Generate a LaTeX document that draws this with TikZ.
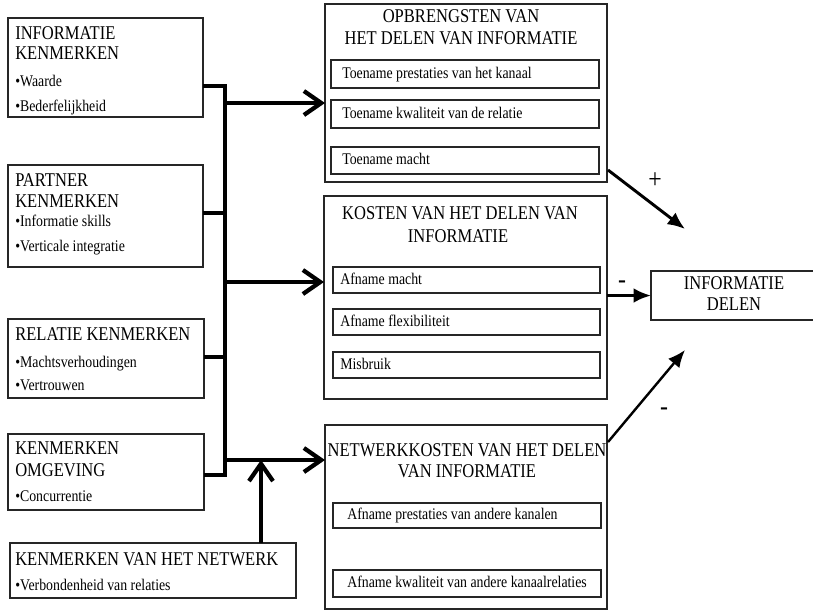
\documentclass[tikz,border=0pt]{standalone}
\usepackage{fontspec}
\setmainfont{Liberation Serif}[FakeStretch=0.85]
\usetikzlibrary{arrows.meta}
\newcommand\fntTitle{\fontsize{14.6}{16}\selectfont}
\newcommand\fntSmall{\fontsize{12.2}{14}\selectfont}
\newcommand\fntSign{\fontsize{21}{22}\selectfont}
\tikzset{
  box/.style={draw=black!85, line width=0.8pt, inner sep=0pt, outer sep=0pt, anchor=north west},
  sz/.style 2 args={minimum width=#1*0.75pt, minimum height=#2*0.75pt},
  ttl/.style={font=\fntTitle, inner sep=0pt, text height=0.66em, text depth=0pt},
  ltl/.style={ttl, anchor=west},
  txt/.style={font=\fntSmall, inner sep=0pt, text height=0.66em, text depth=0pt, anchor=west},
  conn/.style={line width=2.4pt},
  openar/.style={conn, -{Straight Barb[length=13pt,width=18pt,line width=3.2pt]}},
  solidar/.style={line width=2.2pt, -{Latex[length=13pt,width=11pt]}},
  sign/.style={font=\fntSign, inner sep=0pt}
}
\begin{document}
\begin{tikzpicture}[x=0.75pt,y=-0.75pt]
\useasboundingbox (0,0) rectangle (813,611);

% left boxes
\node[box, sz={195}{99}] (b1) at (8,18) {};
\node[ltl] (b1t1) at (15,35) {INFORMATIE};
\node[ltl] (b1t2) at (15,55) {KENMERKEN};
\node[txt] (b1t3) at (15,82) {•Waarde};
\node[txt] (b1t4) at (15,107) {•Bederfelijkheid};

\node[box, sz={195}{102}] (b2) at (8,165) {};
\node[ltl] (b2t1) at (15,182) {PARTNER};
\node[ltl] (b2t2) at (15,203) {KENMERKEN};
\node[txt] (b2t3) at (15,222) {•Informatie skills};
\node[txt] (b2t4) at (15,247) {•Verticale integratie};

\node[box, sz={196}{79}] (b3) at (8,319) {};
\node[ltl] (b3t1) at (15,336) {RELATIE KENMERKEN};
\node[txt] (b3t2) at (15,363) {•Machtsverhoudingen};
\node[txt] (b3t3) at (15,386) {•Vertrouwen};

\node[box, sz={196}{76}] (b4) at (8,434) {};
\node[ltl] (b4t1) at (15,450) {KENMERKEN};
\node[ltl] (b4t2) at (15,472) {OMGEVING};
\node[txt] (b4t3) at (15,497) {•Concurrentie};

\node[box, sz={286}{55}] (b5) at (10,543) {};
\node[ltl] (b5t1) at (15,561) {KENMERKEN VAN HET NETWERK};
\node[txt] (b5t2) at (15,586) {•Verbondenheid van relaties};

% middle boxes
\node[box, sz={282}{178}] (m1) at (325,4) {};
\node[ttl] (m1t1) at (461,18) {OPBRENGSTEN VAN};
\node[ttl] (m1t2) at (461,40) {HET DELEN VAN INFORMATIE};
\node[box, sz={268}{28}] (i11) at (331,60) {};
\node[box, sz={268}{28}] (i12) at (331,100) {};
\node[box, sz={268}{27}] (i13) at (331,147) {};
\node[txt] (i11t) at (342,74) {Toename prestaties van het kanaal};
\node[txt] (i12t) at (342,114) {Toename kwaliteit van de relatie};
\node[txt] (i13t) at (342,160) {Toename macht};

\node[box, sz={283}{203}] (m2) at (324,196) {};
\node[ttl] (m2t1) at (460,215) {KOSTEN VAN HET DELEN VAN};
\node[ttl] (m2t2) at (458,238) {INFORMATIE};
\node[box, sz={267}{26}] (i21) at (333,267) {};
\node[box, sz={267}{26}] (i22) at (333,309) {};
\node[box, sz={267}{26}] (i23) at (333,352) {};
\node[txt] (i21t) at (340,280) {Afname macht};
\node[txt] (i22t) at (340,322) {Afname flexibiliteit};
\node[txt] (i23t) at (340,365) {Misbruik};

\node[box, sz={282}{184}] (m3) at (325,425) {};
\node[ttl] (m3t1) at (467,452) {NETWERKKOSTEN VAN HET DELEN};
\node[ttl] (m3t2) at (467,473) {VAN INFORMATIE};
\node[box, sz={268}{25}] (i31) at (333,503) {};
\node[box, sz={268}{27}] (i32) at (333,570) {};
\node[txt] (i31t) at (347,515) {Afname prestaties van andere kanalen};
\node[txt] (i32t) at (347,583) {Afname kwaliteit van andere kanaalrelaties};

% right box
\node[box, sz={164}{49}] (r) at (651,271) {};
\node[ttl] (rt1) at (734,285) {INFORMATIE};
\node[ttl] (rt2) at (734,306) {DELEN};

% bus and connectors
\coordinate (j1) at (225,86);
\coordinate (j2) at (225,213);
\coordinate (j3) at (225,357);
\coordinate (j4) at (225,475);
\coordinate (a1) at (225,103);
\coordinate (a2) at (225,282);
\coordinate (a3) at (225,460);
\coordinate (u) at (261,460);

\draw[conn] (b1.east |- j1) -- (j1) -- (j4);
\draw[conn] (b2.east |- j2) -- (j2);
\draw[conn] (b3.east |- j3) -- (j3);
\draw[conn] (b4.east |- j4) -- ([xshift=1.2pt]j4);
\draw[openar] (a1) -- (m1.west |- a1);
\draw[openar] (a2) -- (m2.west |- a2);
\draw[openar] (a3) -- (m3.west |- a3);
\draw[openar] (b5.north -| u) -- (u);

% right arrows
\coordinate (p1) at (685,229);
\coordinate (p3) at (685,350);
\draw[solidar] ([shift={(1,-12)}]m1.south east) -- (p1);
\draw[solidar] (m2.east |- r.west) -- (r.west);
\draw[solidar, line width=1.8pt] ([shift={(1,17)}]m3.north east) -- (p3);
\node[sign] (s1) at (655,181) {+};
\node[sign] (s2) at (622,285) {-};
\node[sign] (s3) at (664,412) {-};
\end{tikzpicture}
\end{document}
